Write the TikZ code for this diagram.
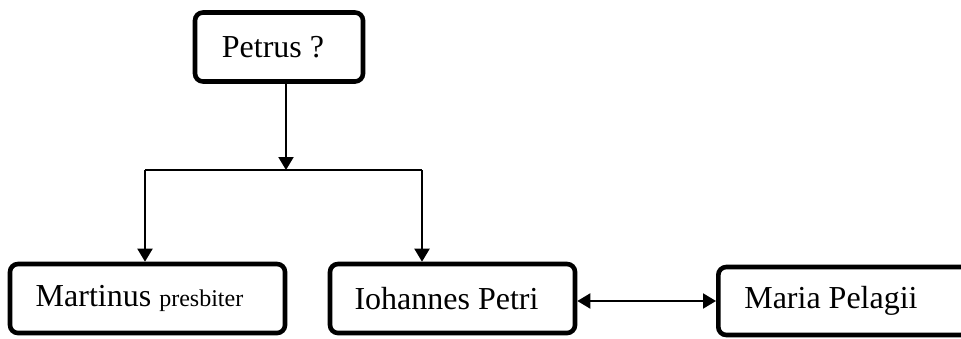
\documentclass[tikz,border=0pt]{standalone}
\usepackage{fontspec}
\setmainfont{Liberation Serif}
\usetikzlibrary{arrows.meta,positioning}
\tikzset{
  person/.style={draw,line width=2.3pt,rounded corners=4pt,minimum height=34.5pt,inner sep=0pt,fill=white,font=\fontsize{16}{19}\selectfont},
  arr/.style={-{Triangle[length=6.5pt,width=7.5pt]},line width=1pt},
  dblarr/.style={{Triangle[length=6.5pt,width=7.5pt]}-{Triangle[length=6.5pt,width=7.5pt]},line width=1pt},
  link/.style={line width=1pt}
}
\begin{document}
\begin{tikzpicture}[x=0.5pt,y=-0.5pt]
\clip (0,0) rectangle (961,338);
\useasboundingbox (0,0) rectangle (961,338);
% persons
\node[person,minimum width=84pt] (petrus) at (279,47) {\hspace{-6pt}Petrus ?};
\node[person,minimum width=137.5pt] (mart) at (147.5,298.5) {\hspace{-8pt}Martinus {\fontsize{12}{14}\selectfont presbiter}};
\node[person,minimum width=122.5pt] (ioh) at (452.5,298.5) {\hspace{-6pt}Iohannes Petri};
\node[person,anchor=west,minimum width=150pt,minimum height=34pt,inner xsep=13pt] (maria) at (716,301) {\makebox[124pt][l]{Maria Pelagii}};
% tree
\coordinate (split) at (286,170);
\coordinate (lbend) at (145,170);
\coordinate (rbend) at (422,170);
\draw[arr] (petrus.south -| split) -- (split);
\draw[link] (lbend) -- (rbend);
\draw[arr] (lbend) -- (lbend |- mart.north);
\draw[arr] (rbend) -- (rbend |- ioh.north);
\draw[dblarr] (ioh.east |- maria.west) -- (maria.west);
\end{tikzpicture}
\end{document}
